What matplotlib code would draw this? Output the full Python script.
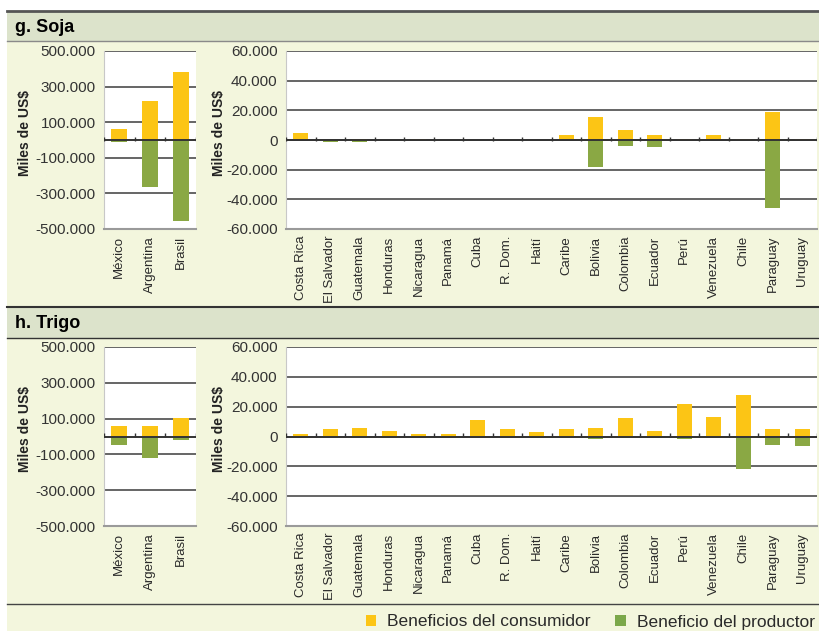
import matplotlib
matplotlib.use("Agg")
import matplotlib.pyplot as plt
from matplotlib.patches import Rectangle, Patch
from matplotlib.lines import Line2D
from matplotlib.ticker import FuncFormatter

plt.rcParams['font.family'] = ['Liberation Sans', 'DejaVu Sans']

# grandes productores
big = ["México", "Argentina", "Brasil"]
# resto de países
small = ["Costa Rica", "El Salvador", "Guatemala", "Honduras", "Nicaragua", "Panamá",
         "Cuba", "R. Dom.", "Haití", "Caribe", "Bolivia", "Colombia", "Ecuador",
         "Perú", "Venezuela", "Chile", "Paraguay", "Uruguay"]

# g. Soja (miles de US$)
soja_big_cons = [60000, 220000, 380000]
soja_big_prod = [-12000, -265000, -455000]
soja_small_cons = [5000, 0, 1000, 300, 1000, 300, 300, 300, 0, 3600,
                   15700, 7000, 3600, 900, 3600, 900, 19100, 900]
soja_small_prod = [0, -1500, -1500, -200, 0, 0, 0, 0, 0, 0,
                   -18400, -3800, -4500, 0, 0, 0, -45600, 0]

# h. Trigo (miles de US$)
trigo_big_cons = [56000, 56000, 101000]
trigo_big_prod = [-45000, -121000, -22000]
trigo_small_cons = [2000, 4700, 6000, 4000, 1400, 1400, 10800, 4700, 2700, 4700,
                    6000, 12100, 4000, 21600, 12800, 27600, 4700, 4700]
trigo_small_prod = [0, 0, -1100, 0, 0, 0, 0, 0, 0, 0,
                    -2000, -1100, 0, -2000, 0, -21600, -5400, -6100]

YELLOW = "#FCC515"
GREEN = "#8AA844"
PANEL = "#F3F6DD"
HEADER = "#DCE3CB"

W, H = 819, 631
fig = plt.figure(figsize=(W / 100, H / 100), dpi=100, facecolor="white")


def px_axes(x0, y0, x1, y1):
    return fig.add_axes([x0 / W, 1 - y1 / H, (x1 - x0) / W, (y1 - y0) / H])


def hline(y, color, lw):
    fig.add_artist(Line2D([7 / W, 1], [1 - y / H, 1 - y / H], color=color, lw=lw,
                          transform=fig.transFigure))


# fondos de los paneles
fig.add_artist(Rectangle((7 / W, 0), 1 - 7 / W, 1 - 11 / H, transform=fig.transFigure,
                         facecolor=PANEL, edgecolor="none", zorder=-10))
for y0, y1 in [(11, 41), (307, 338)]:
    fig.add_artist(Rectangle((7 / W, 1 - y1 / H), 1 - 7 / W, (y1 - y0) / H,
                             transform=fig.transFigure, facecolor=HEADER,
                             edgecolor="none", zorder=-9))
hline(11, "#555555", 2)
hline(41, "#8a8a8a", 1)
hline(307, "#333333", 1.5)
hline(338, "#333333", 1)
hline(604, "#444444", 1)

fig.text(15 / W, 1 - 27 / H, "g. Soja", fontsize=13, fontweight="bold", va="center")
fig.text(15 / W, 1 - 323 / H, "h. Trigo", fontsize=13, fontweight="bold", va="center")


def fmt(v, pos):
    return f"{int(round(v)):,}".replace(",", ".")


def draw(ax, labels, cons, prod, lim, ticks, label_x):
    n = len(labels)
    x = range(n)
    ax.set_facecolor("white")
    ax.bar(x, cons, width=0.52, color=YELLOW, zorder=3)
    ax.bar(x, prod, width=0.52, color=GREEN, zorder=3)
    ax.set_xlim(-0.5, n - 0.5)
    ax.set_ylim(-lim, lim)
    ax.set_yticks(ticks)
    ax.yaxis.set_major_formatter(FuncFormatter(fmt))
    ax.grid(axis="y", color="#3c3c3c", lw=1.1, zorder=1)
    ax.axhline(0, color="#333333", lw=1.4, zorder=4)
    bounds = [i - 0.5 for i in range(n + 1)]
    ax.vlines(bounds, -lim * 0.01, lim * 0.035, color="#333333", lw=1, zorder=4)
    ax.set_xticks(list(x))
    ax.set_xticklabels(labels, rotation=90, fontsize=9.5, color="#2a2a2a")
    ax.tick_params(axis="x", length=0, pad=5)
    ax.tick_params(axis="y", length=0, pad=6, labelsize=11, labelcolor="#333333")
    for s in ["top", "right"]:
        ax.spines[s].set_visible(False)
    ax.spines["left"].set_color("#c8c8c8")
    ax.spines["bottom"].set_color("#9a9a9a")
    ax.spines["bottom"].set_linewidth(1.5)
    ax.set_ylabel("Miles de US$", fontsize=10, fontweight="bold", color="#222222")
    ax.yaxis.set_label_coords(label_x, 0.54)


big_ticks = [-500000, -300000, -100000, 100000, 300000, 500000]
small_ticks = [-60000, -40000, -20000, 0, 20000, 40000, 60000]

ax1 = px_axes(104, 51, 196, 229)
draw(ax1, big, soja_big_cons, soja_big_prod, 500000, big_ticks, -0.78)
ax2 = px_axes(286, 51, 817, 229)
draw(ax2, small, soja_small_cons, soja_small_prod, 60000, small_ticks, -0.113)

ax3 = px_axes(104, 347, 196, 526)
draw(ax3, big, trigo_big_cons, trigo_big_prod, 500000, big_ticks, -0.78)
ax4 = px_axes(286, 347, 817, 526)
draw(ax4, small, trigo_small_cons, trigo_small_prod, 60000, small_ticks, -0.113)

handles = [Patch(facecolor=YELLOW, edgecolor="none"),
           Patch(facecolor="#7BA84A", edgecolor="none")]
fig.legend(handles, ["Beneficios del consumidor", "Beneficio del productor"],
           loc="center right", bbox_to_anchor=(822 / W, 1 - 622 / H), ncol=2,
           frameon=False, fontsize=12.5, handlelength=0.63, handleheight=0.63,
           handletextpad=0.63, columnspacing=1.4, borderaxespad=0,
           labelcolor="#2a2a2a")

fig.savefig("out.png", dpi=100, facecolor=fig.get_facecolor())
